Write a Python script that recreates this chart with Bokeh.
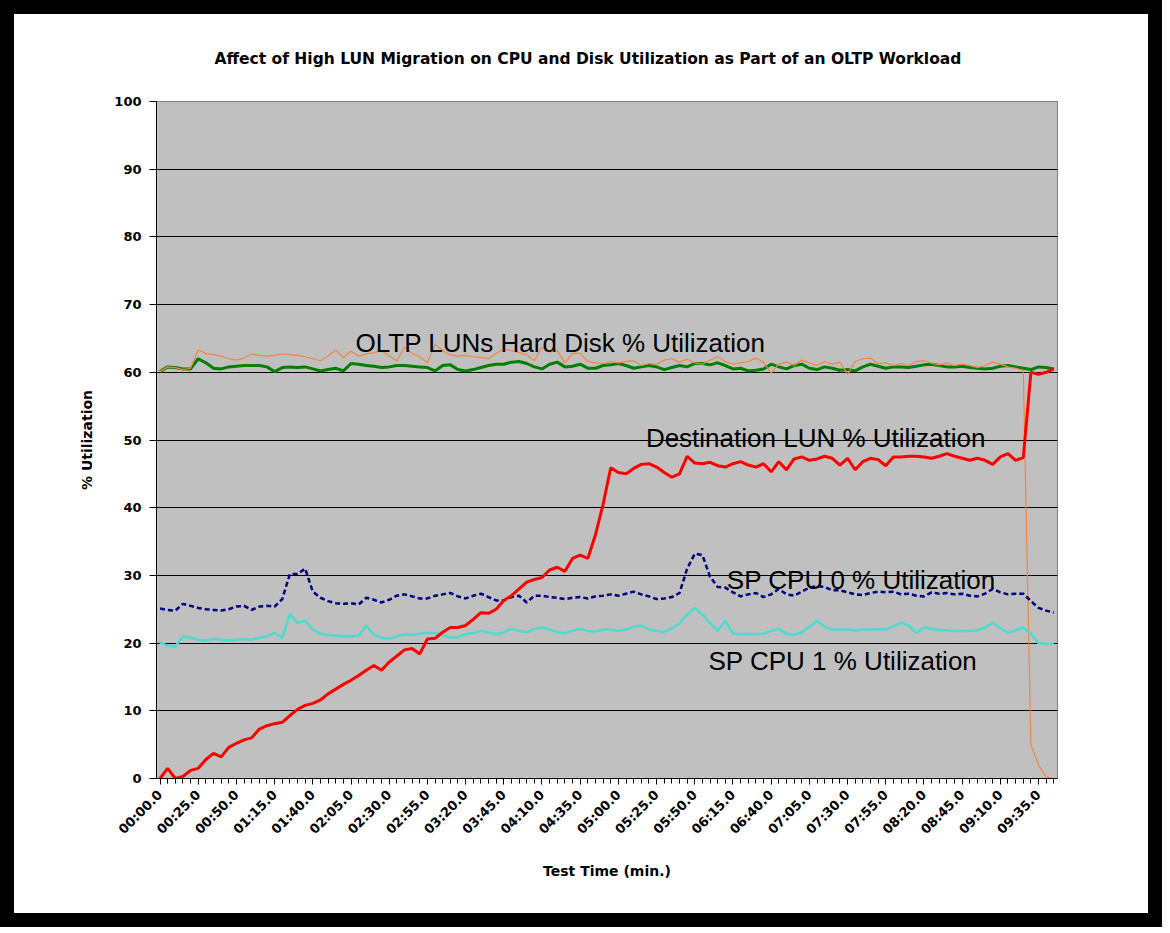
import math
from bokeh.plotting import figure
from bokeh.models import FixedTicker, Label
from bokeh.embed import file_html
from bokeh.resources import INLINE

# ---------------- data ----------------
# test time in seconds (one sample every 5 s)
test_time_s = list(range(0, 590, 5))

tick_seconds = list(range(0, 600, 25))[:24]
tick_labels = ["00:00.0", "00:25.0", "00:50.0", "01:15.0", "01:40.0", "02:05.0",
               "02:30.0", "02:55.0", "03:20.0", "03:45.0", "04:10.0", "04:35.0",
               "05:00.0", "05:25.0", "05:50.0", "06:15.0", "06:40.0", "07:05.0",
               "07:30.0", "07:55.0", "08:20.0", "08:45.0", "09:10.0", "09:35.0"]

destination_lun = [
    0.0, 1.5, 0.0, 0.3, 1.2, 1.5, 2.8, 3.7, 3.2, 4.6,
    5.2, 5.7, 6.0, 7.3, 7.8, 8.1, 8.3, 9.3, 10.2, 10.8,
    11.1, 11.6, 12.5, 13.2, 13.9, 14.5, 15.2, 16.0, 16.7, 16.0,
    17.2, 18.1, 19.0, 19.2, 18.4, 20.6, 20.7, 21.6, 22.3, 22.3,
    22.6, 23.5, 24.5, 24.4, 25.0, 26.3, 27.0, 28.0, 29.0, 29.4,
    29.7, 30.8, 31.2, 30.6, 32.5, 33.0, 32.5, 36.0, 40.5, 45.9,
    45.2, 45.0, 45.8, 46.4, 46.5, 46.0, 45.2, 44.5, 45.0, 47.6,
    46.6, 46.5, 46.7, 46.2, 46.0, 46.5, 46.8, 46.3, 46.0, 46.5,
    45.3, 46.8, 45.6, 47.2, 47.5, 47.0, 47.2, 47.6, 47.3, 46.3,
    47.3, 45.6, 46.8, 47.3, 47.1, 46.2, 47.5, 47.5, 47.6, 47.6,
    47.5, 47.3, 47.6, 48.0, 47.6, 47.3, 47.0, 47.3, 47.0, 46.4,
    47.5, 48.0, 47.0, 47.4, 60.0, 59.7, 60.0, 60.5]

oltp_disk_green = [
    60.1, 60.8, 60.7, 60.5, 60.5, 62.0, 61.4, 60.6, 60.5, 60.8,
    60.9, 61.0, 61.0, 61.0, 60.8, 60.1, 60.7, 60.8, 60.7, 60.8,
    60.5, 60.2, 60.4, 60.6, 60.2, 61.3, 61.2, 61.0, 60.9, 60.7,
    60.8, 61.0, 61.0, 60.9, 60.8, 60.7, 60.2, 61.0, 61.1, 60.4,
    60.2, 60.4, 60.7, 61.0, 61.2, 61.2, 61.5, 61.6, 61.3, 60.8,
    60.5, 61.2, 61.5, 60.8, 60.9, 61.2, 60.6, 60.6, 61.0, 61.1,
    61.3, 61.0, 60.6, 60.8, 61.0, 60.8, 60.4, 60.7, 61.0, 60.8,
    61.3, 61.3, 61.1, 61.4, 61.0, 60.5, 60.6, 60.2, 60.3, 60.5,
    61.2, 60.8, 60.5, 61.0, 61.2, 60.6, 60.4, 60.8, 60.6, 60.3,
    60.4, 60.2, 60.8, 61.2, 60.9, 60.6, 60.8, 60.8, 60.7, 60.9,
    61.1, 61.2, 61.0, 60.8, 60.8, 60.9, 60.7, 60.6, 60.5, 60.6,
    60.9, 61.0, 60.8, 60.6, 60.4, 60.8, 60.7, 60.5]

oltp_disk_orange = [
    60.1, 60.8, 60.7, 60.4, 60.6, 63.3, 62.8, 62.6, 62.4, 62.0,
    61.8, 62.1, 62.7, 62.5, 62.4, 62.5, 62.7, 62.6, 62.5, 62.3,
    62.0, 61.7, 62.4, 63.3, 62.2, 63.1, 62.4, 62.7, 62.9, 63.2,
    62.4, 61.7, 63.7, 62.8, 62.3, 61.4, 64.2, 63.2, 62.6, 62.4,
    62.5, 62.3, 62.2, 62.0, 62.8, 63.4, 63.2, 62.9, 62.6, 61.7,
    63.7, 63.0, 63.2, 61.4, 62.8, 62.8, 61.6, 61.4, 61.3, 61.6,
    61.4, 61.6, 61.7, 61.0, 61.3, 61.2, 61.8, 62.0, 61.5, 61.9,
    61.4, 61.2, 61.8, 62.3, 61.6, 61.2, 61.4, 61.6, 62.1, 61.5,
    59.9, 61.2, 61.5, 61.0, 61.8, 61.4, 61.0, 61.6, 61.2, 61.5,
    59.7, 61.6, 62.0, 62.1, 61.3, 61.4, 61.0, 61.3, 61.0, 61.6,
    61.7, 61.3, 61.1, 61.4, 61.0, 61.2, 61.0, 60.7, 61.0, 61.5,
    61.2, 60.8, 60.6, 60.3, 5.0, 2.0, 0.2, 0.0]

sp_cpu0 = [
    25.1, 24.9, 24.8, 25.8, 25.5, 25.2, 25.0, 24.9, 24.8, 25.0,
    25.4, 25.5, 24.9, 25.4, 25.5, 25.4, 26.5, 30.2, 30.2, 31.0,
    27.6, 26.7, 26.2, 25.9, 25.8, 25.9, 25.7, 26.7, 26.4, 26.0,
    26.4, 27.0, 27.2, 26.9, 26.6, 26.6, 27.0, 27.2, 27.4, 26.9,
    26.6, 27.0, 27.3, 26.8, 26.3, 26.3, 26.8, 27.0, 26.0, 27.0,
    27.0, 26.8, 26.7, 26.5, 26.7, 26.8, 26.6, 26.9, 27.0, 27.2,
    27.0, 27.3, 27.6, 27.2, 26.9, 26.5, 26.6, 26.8, 27.4, 31.0,
    33.2, 33.0, 29.8, 28.3, 28.2, 27.5, 26.9, 27.2, 27.4, 26.8,
    27.2, 28.0, 27.2, 27.0, 27.6, 28.2, 28.4, 28.3, 27.8, 27.8,
    27.5, 27.2, 27.1, 27.4, 27.6, 27.5, 27.6, 27.2, 27.3, 27.0,
    26.9, 27.5, 27.3, 27.4, 27.2, 27.3, 27.0, 26.9, 27.3, 28.0,
    27.5, 27.2, 27.3, 27.3, 26.2, 25.2, 24.8, 24.5]

sp_cpu1 = [
    20.1, 19.6, 19.5, 21.0, 20.8, 20.5, 20.4, 20.6, 20.5, 20.4,
    20.5, 20.6, 20.5, 20.8, 21.0, 21.5, 20.8, 24.3, 23.0, 23.3,
    22.0, 21.4, 21.2, 21.1, 21.0, 21.0, 21.1, 22.6, 21.2, 20.8,
    20.6, 21.0, 21.3, 21.2, 21.4, 21.5, 21.5, 21.2, 20.8, 20.9,
    21.3, 21.5, 21.8, 21.6, 21.3, 21.6, 22.1, 21.8, 21.6, 22.1,
    22.3, 22.0, 21.6, 21.5, 21.8, 22.1, 21.8, 21.7, 22.0, 22.0,
    21.8, 22.0, 22.4, 22.6, 22.0, 21.8, 21.6, 22.2, 22.9, 24.2,
    25.2, 24.2, 23.0, 21.8, 23.3, 21.4, 21.3, 21.4, 21.3, 21.4,
    21.8, 22.1, 21.4, 21.2, 21.6, 22.4, 23.3, 22.4, 22.0, 22.0,
    22.0, 21.9, 22.0, 22.0, 22.1, 22.0, 22.5, 23.0, 22.6, 21.5,
    22.3, 22.1, 21.9, 21.9, 21.8, 21.8, 21.8, 21.9, 22.3, 23.0,
    22.2, 21.5, 21.9, 22.3, 21.4, 20.0, 19.9, 19.9]

series_names = ["OLTP LUNs Hard Disk % Utilization", "Destination LUN % Utilization",
                "SP CPU 0 % Utilization", "SP CPU 1 % Utilization"]
# label anchor positions (seconds, % utilization)
label_x = [128, 318, 371, 359]
label_y = [64.4, 50.3, 29.35, 17.3]

y_ticks = list(range(0, 110, 10))

# ---------------- figure ----------------
p = figure(width=1162, height=927,
           x_range=(-2.3, 587.4), y_range=(0, 100),
           output_backend="svg", toolbar_location=None, tools="",
           min_border_left=142, min_border_right=119,
           min_border_top=86, min_border_bottom=163,
           background_fill_color="#C0C0C0", border_fill_color="white",
           styles={"border": "14px solid black"})

p.title.text = "Affect of High LUN Migration on CPU and Disk Utilization as Part of an OLTP Workload"
p.title.text_font = "DejaVu Sans"
p.title.text_font_style = "bold"
p.title.text_font_size = "15.5px"
p.title.text_color = "black"
p.title.align = "left"
p.title.offset = 58
p.title.standoff = 67

p.outline_line_color = "#808080"
p.outline_line_width = 1

p.xgrid.grid_line_color = None
p.ygrid.ticker = FixedTicker(ticks=y_ticks[1:-1])
p.ygrid.grid_line_color = "black"
p.ygrid.grid_line_width = 1

# y axis
p.yaxis.ticker = FixedTicker(ticks=y_ticks)
p.yaxis.axis_label = "% Utilization"
p.yaxis.axis_label_text_font = "DejaVu Sans"
p.yaxis.axis_label_text_font_style = "bold"
p.yaxis.axis_label_text_font_size = "14px"
p.yaxis.axis_label_text_color = "black"
p.yaxis.axis_label_standoff = 16
p.yaxis.major_label_text_font = "DejaVu Sans"
p.yaxis.major_label_text_font_style = "bold"
p.yaxis.major_label_text_font_size = "13px"
p.yaxis.major_label_text_color = "black"
p.yaxis.major_label_standoff = 8
p.yaxis.major_tick_out = 7
p.yaxis.major_tick_in = 0
p.yaxis.minor_tick_line_color = None
p.yaxis.axis_line_color = "black"
p.yaxis.major_tick_line_color = "black"

# x axis
p.xaxis.ticker = FixedTicker(ticks=tick_seconds, minor_ticks=test_time_s)
p.xaxis.major_label_overrides = {t: lab for t, lab in zip(tick_seconds, tick_labels)}
p.xaxis.major_label_orientation = math.pi / 4
p.xaxis.major_label_text_font = "DejaVu Sans"
p.xaxis.major_label_text_font_style = "bold"
p.xaxis.major_label_text_font_size = "13px"
p.xaxis.major_label_text_color = "black"
p.xaxis.major_label_standoff = 8
p.xaxis.major_tick_out = 6
p.xaxis.major_tick_in = 0
p.xaxis.minor_tick_out = 5
p.xaxis.minor_tick_in = 0
p.xaxis.minor_tick_line_color = "black"
p.xaxis.major_tick_line_color = "black"
p.xaxis.axis_line_color = "black"
p.xaxis.axis_label = "Test Time (min.)"
p.xaxis.axis_label_text_font = "DejaVu Sans"
p.xaxis.axis_label_text_font_style = "bold"
p.xaxis.axis_label_text_font_size = "14px"
p.xaxis.axis_label_text_color = "black"
p.xaxis.axis_label_standoff = 18

# lines
p.line(test_time_s, oltp_disk_green, line_color="#008000", line_width=3)
p.line(test_time_s, oltp_disk_orange, line_color="#F5843C", line_width=1.2)
p.line(test_time_s, sp_cpu1, line_color="#4DDBD0", line_width=2.5)
p.line(test_time_s, sp_cpu0, line_color="#000080", line_width=2.5, line_dash="5 3")
p.line(test_time_s, destination_lun, line_color="#FF0000", line_width=3)

for name, lx, ly in zip(series_names, label_x, label_y):
    p.add_layout(Label(x=lx, y=ly, text=name, text_font="Liberation Sans",
                       text_font_size="26px", text_color="black",
                       text_baseline="alphabetic", text_align="left"))

open("out.html", "w").write(file_html(p, INLINE))
